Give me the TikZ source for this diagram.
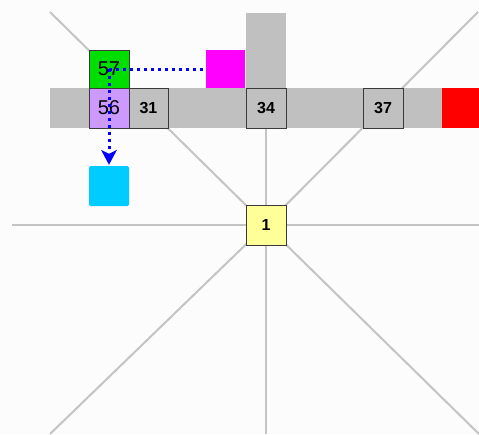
\documentclass[tikz,border=0pt]{standalone}
\usepackage{fontspec}
\setmainfont{Liberation Sans}
\usetikzlibrary{arrows.meta,backgrounds}
\definecolor{ray}{HTML}{C4C4C4}
\definecolor{cellgray}{HTML}{C0C0C0}
\definecolor{edge}{HTML}{3A3A3A}
\definecolor{pale}{HTML}{FFFF99}
\definecolor{lav}{HTML}{CC99FF}
\definecolor{grn}{HTML}{00DD00}
\definecolor{mag}{HTML}{FF00FF}
\definecolor{cyn}{HTML}{00CCFF}
\definecolor{rd}{HTML}{FF0000}
\definecolor{dotblue}{HTML}{0000FF}
\tikzset{
  rayline/.style={draw=ray, line width=2pt},
  cell/.style={draw=edge, line width=1pt, fill=cellgray, inner sep=0pt,
     minimum width=40pt, minimum height=40pt, font=\bfseries\fontsize{16}{16}\selectfont},
  bigcell/.style={cell, font=\fontsize{20}{20}\selectfont},
  plain/.style={inner sep=0pt, draw=none},
  dotted blue/.style={draw=dotblue, line width=3pt, dash pattern=on 3pt off 4pt},
}
\begin{document}
\begin{tikzpicture}[x=1pt,y=-1pt]
\useasboundingbox (0,0) rectangle (479,434);
% hub
\node[cell, fill=pale] (n1) at (266,225) {1};
\coordinate (W) at (12,225);
\coordinate (E) at (479,225);
\coordinate (S) at (266,434);
\coordinate (NW) at (50,12);
\coordinate (NE) at (478,12);
\coordinate (SW) at (50,434);
\coordinate (SE) at (479,434);
\begin{pgfonlayer}{background}
\fill[white!98!gray] (0,0) rectangle (479,434);
\foreach \c in {W,E,S,NW,NE,SW,SE} \draw[rayline] (n1.center) -- (\c);
\end{pgfonlayer}
% gray bar and column
\fill[cellgray] (50,88) rectangle (443,128);
\fill[cellgray] (246,13) rectangle (286,88);
\node[cell] (n34) at (266,108) {34};
\draw[rayline] (n34.south) -- (n1.north);
\node[plain, fill=rd, minimum width=37pt, minimum height=40pt] (red) at (460.5,108) {};
\node[bigcell, fill=lav] (n56) at (109,108) {56};
\node[cell, minimum width=39pt] (n31) at (148.5,108) {31};
\node[cell] (n37) at (383,108) {37};
\node[bigcell, fill=grn, minimum height=38pt] (n57) at (109,69) {57};
\node[plain, fill=mag, minimum width=39pt, minimum height=38pt] (mg) at (225.5,69) {};
\node[plain, fill=cyn, minimum width=40pt, minimum height=40pt, rounded corners=1.5pt] (cy) at (109,186) {};
% dotted arrows
\draw[dotted blue] (n57.center) -- (mg.west);
\draw[dotted blue] (n57.center) -- ([yshift=13pt]cy.north);
\fill[dotblue] ([yshift=1pt]cy.north) -- ++(-8,-15) -- ++(8,4) -- ++(8,-4) -- cycle;
\end{tikzpicture}
\end{document}
